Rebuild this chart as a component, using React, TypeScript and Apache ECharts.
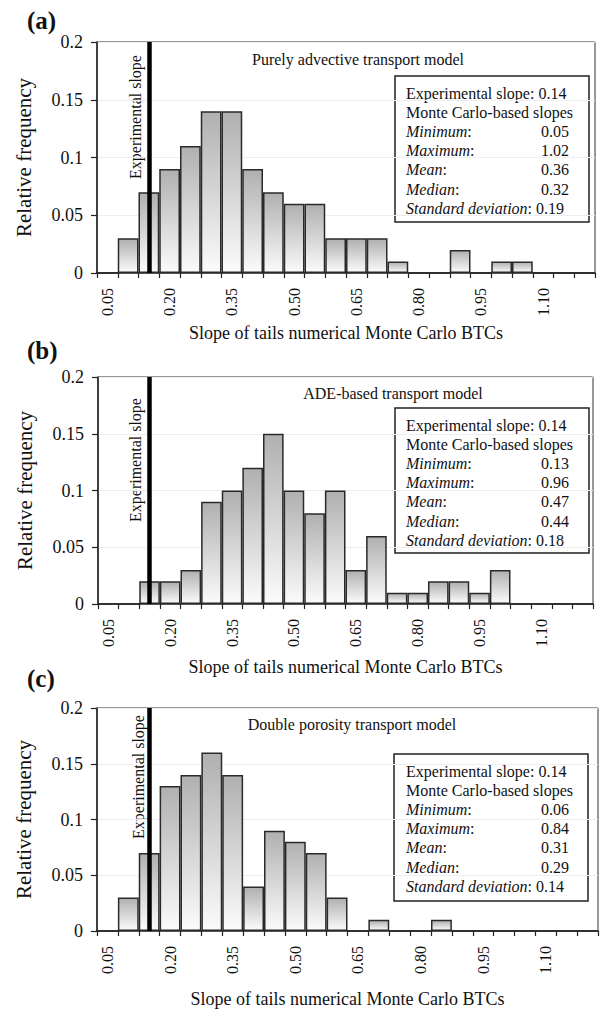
import React, { useEffect, useRef } from "react";
import * as echarts from "echarts";

const categories = [
  "0.05", "0.10", "0.15", "0.20", "0.25", "0.30", "0.35", "0.40",
  "0.45", "0.50", "0.55", "0.60", "0.65", "0.70", "0.75", "0.80",
  "0.85", "0.90", "0.95", "1.00", "1.05", "1.10", "1.15", "1.20",
];

const freqA = [0, 0.03, 0.07, 0.09, 0.11, 0.14, 0.14, 0.09, 0.07, 0.06, 0.06, 0.03, 0.03, 0.03, 0.01, 0, 0, 0.02, 0, 0.01, 0.01, 0, 0, 0];
const freqB = [0, 0, 0.02, 0.02, 0.03, 0.09, 0.1, 0.12, 0.15, 0.1, 0.08, 0.1, 0.03, 0.06, 0.01, 0.01, 0.02, 0.02, 0.01, 0.03, 0, 0, 0, 0];
const freqC = [0, 0.03, 0.07, 0.13, 0.14, 0.16, 0.14, 0.04, 0.09, 0.08, 0.07, 0.03, 0, 0.01, 0, 0, 0.01, 0, 0, 0, 0, 0, 0, 0];

const panelLabels = ["(a)", "(b)", "(c)"];
const modelTitles = [
  "Purely advective transport model",
  "ADE-based transport model",
  "Double porosity transport model",
];
const experimentalSlope = "0.15"; // category where the experimental slope (0.14) line is drawn
const statLabels = ["Minimum", "Maximum", "Mean", "Median"];
const statsA = ["0.14", "0.05", "1.02", "0.36", "0.32", "0.19"];
const statsB = ["0.14", "0.13", "0.96", "0.47", "0.44", "0.18"];
const statsC = ["0.14", "0.06", "0.84", "0.31", "0.29", "0.14"];
const yAxisName = "Relative frequency";
const xAxisName = "Slope of tails numerical Monte Carlo BTCs";

const FONT = "'Liberation Serif', 'Times New Roman', serif";

const layout = [
  { grid: { left: 97, top: 42, width: 498, height: 231 }, labelY: 20, title: [358, 59], box: [395, 76, 194, 146], textTop: 93, exp: [135, 117], xGap: 51 },
  { grid: { left: 98, top: 377, width: 495, height: 227 }, labelY: 350, title: [393, 393], box: [395, 408, 194, 145], textTop: 425, exp: [135, 460], xGap: 54 },
  { grid: { left: 97, top: 708, width: 501, height: 223 }, labelY: 678, title: [352, 724], box: [394, 754, 194, 147], textTop: 771, exp: [138, 777], xGap: 59 },
];

export default function App() {
  const ref = useRef<HTMLDivElement>(null);
  useEffect(() => {
    document.body.style.margin = "0";
    if (!ref.current) return;
    const chart = echarts.init(ref.current, null, { renderer: "svg" });
    const freqs = [freqA, freqB, freqC];
    const stats = [statsA, statsB, statsC];

    const grids: any[] = [];
    const xAxes: any[] = [];
    const yAxes: any[] = [];
    const series: any[] = [];
    const graphic: any[] = [];

    layout.forEach((p, i) => {
      grids.push({ ...p.grid, show: true, borderColor: "#333", borderWidth: 1, backgroundColor: "transparent" });
      xAxes.push({
        type: "category",
        gridIndex: i,
        data: categories,
        boundaryGap: true,
        name: xAxisName,
        nameLocation: "middle",
        nameGap: p.xGap,
        nameTextStyle: { fontFamily: FONT, fontSize: 18, color: "#111" },
        axisLine: { lineStyle: { color: "#222", width: 1.5 } },
        axisTick: { show: true, interval: 0, length: 5, lineStyle: { color: "#222", width: 1.2 } },
        axisLabel: { interval: 2, rotate: 90, margin: 15, fontFamily: FONT, fontSize: 16, color: "#111" },
        splitLine: { show: false },
      });
      yAxes.push({
        type: "value",
        gridIndex: i,
        min: 0,
        max: 0.2,
        interval: 0.05,
        name: yAxisName,
        nameLocation: "middle",
        nameRotate: 90,
        nameGap: 63,
        nameTextStyle: { fontFamily: FONT, fontSize: 21, color: "#111" },
        axisLine: { show: true, lineStyle: { color: "#222", width: 1.5 } },
        axisTick: { show: true, length: 6, lineStyle: { color: "#222", width: 1.2 } },
        axisLabel: { margin: 14, fontFamily: FONT, fontSize: 18, color: "#111" },
        splitLine: { show: true, lineStyle: { color: "#eeeeee", width: 1 } },
      });
      series.push({
        type: "bar",
        xAxisIndex: i,
        yAxisIndex: i,
        data: freqs[i],
        barCategoryGap: "0%",
        itemStyle: {
          color: new echarts.graphic.LinearGradient(0, 0, 0, 1, [
            { offset: 0, color: "#b0b0b0" },
            { offset: 1, color: "#fbfbfb" },
          ]),
          borderColor: "#2a2a2a",
          borderWidth: 1.5,
        },
        markLine: {
          silent: true,
          symbol: ["none", "none"],
          label: { show: false },
          lineStyle: { color: "#000", width: 4.5, type: "solid" },
          data: [{ xAxis: experimentalSlope }],
        },
      });

      // panel label
      graphic.push({
        type: "text",
        x: 27,
        y: p.labelY,
        style: { text: panelLabels[i], font: `bold 25px ${FONT}`, fill: "#111", textVerticalAlign: "middle" },
      });
      // model title
      graphic.push({
        type: "text",
        x: p.title[0],
        y: p.title[1],
        style: { text: modelTitles[i], font: `16px ${FONT}`, fill: "#111", textAlign: "center", textVerticalAlign: "middle" },
      });
      // experimental slope rotated label
      graphic.push({
        type: "text",
        x: p.exp[0],
        y: p.exp[1],
        rotation: Math.PI / 2,
        style: { text: "Experimental slope", font: `16px ${FONT}`, fill: "#111", textAlign: "center", textVerticalAlign: "middle" },
      });
      // stats box
      const [bx, by, bw, bh] = p.box;
      graphic.push({
        type: "rect",
        shape: { x: bx, y: by, width: bw, height: bh },
        style: { fill: "#fff", stroke: "#222", lineWidth: 1.5 },
      });
      const s = stats[i];
      const lh = 19.2;
      const tx = 406;
      const vx = 541;
      const lineText = (y: number, text: string, rich = false) => ({
        type: "text",
        x: tx,
        y,
        style: {
          text,
          font: `16px ${FONT}`,
          fill: "#111",
          textVerticalAlign: "middle",
          rich: rich ? { i: { fontStyle: "italic", fontFamily: FONT, fontSize: 16, color: "#111" } } : undefined,
        },
      });
      graphic.push(lineText(p.textTop, `Experimental slope: ${s[0]}`));
      graphic.push(lineText(p.textTop + lh, "Monte Carlo-based slopes"));
      statLabels.forEach((lab, k) => {
        const y = p.textTop + lh * (k + 2);
        graphic.push(lineText(y, `{i|${lab}}:`, true));
        graphic.push({
          type: "text",
          x: vx,
          y,
          style: { text: s[k + 1], font: `16px ${FONT}`, fill: "#111", textVerticalAlign: "middle" },
        });
      });
      graphic.push(lineText(p.textTop + lh * 6, `{i|Standard deviation}: ${s[5]}`, true));
    });

    chart.setOption({
      animation: false,
      backgroundColor: "#fff",
      grid: grids,
      xAxis: xAxes,
      yAxis: yAxes,
      series,
      graphic,
    });
    return () => chart.dispose();
  }, []);
  return <div ref={ref} style={{ width: 605, height: 1012 }} />;
}
